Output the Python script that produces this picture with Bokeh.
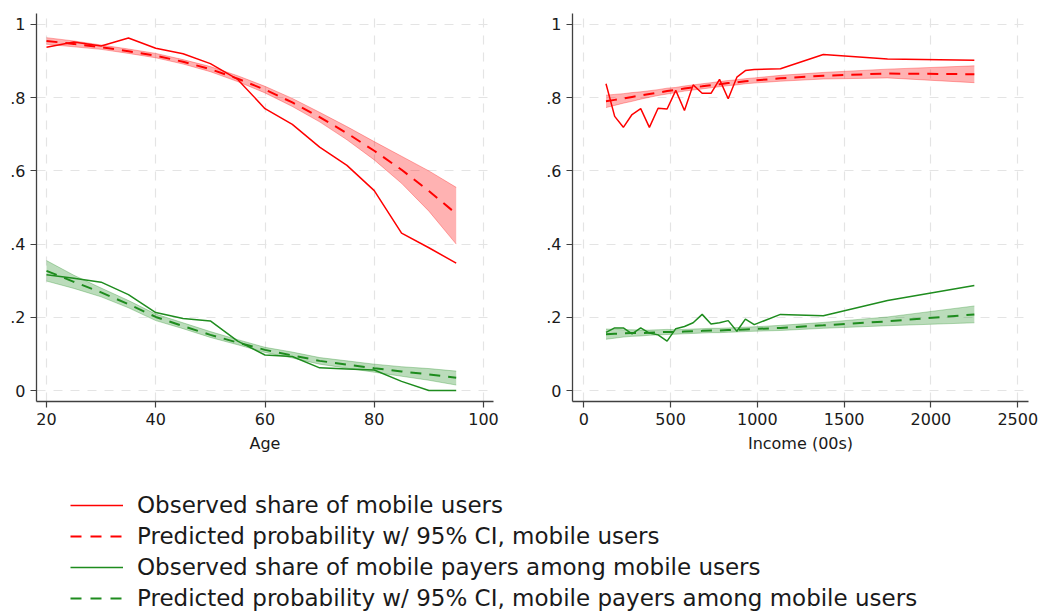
from bokeh.plotting import figure
from bokeh.models import FixedTicker, CustomJSTickFormatter, Legend, LegendItem, Range1d
from bokeh.layouts import column, row
from bokeh.embed import file_html
from bokeh.resources import INLINE

# ---------------- data: by age ----------------
age = [20, 25, 30, 35, 40, 45, 50, 55, 60, 65, 70, 75, 80, 85, 90, 95]
age_obs_users = [0.938, 0.952, 0.941, 0.963, 0.935, 0.920, 0.893, 0.850,
                 0.770, 0.727, 0.665, 0.615, 0.546, 0.430, 0.390, 0.348]
age_pred_users = [0.955, 0.947, 0.938, 0.927, 0.915, 0.898, 0.878, 0.852,
                  0.822, 0.787, 0.747, 0.703, 0.655, 0.603, 0.545, 0.483]
age_pred_users_hi = [0.964, 0.955, 0.944, 0.933, 0.921, 0.904, 0.885, 0.860,
                     0.831, 0.798, 0.760, 0.721, 0.680, 0.640, 0.600, 0.555]
age_pred_users_lo = [0.946, 0.939, 0.932, 0.921, 0.909, 0.892, 0.871, 0.844,
                     0.813, 0.776, 0.734, 0.685, 0.630, 0.566, 0.490, 0.400]
age_obs_payers = [0.316, 0.307, 0.296, 0.262, 0.213, 0.197, 0.190, 0.135,
                  0.097, 0.093, 0.062, 0.059, 0.056, 0.025, 0.000, 0.000]
age_pred_payers = [0.327, 0.297, 0.268, 0.236, 0.201, 0.176, 0.152, 0.131,
                   0.111, 0.096, 0.081, 0.071, 0.061, 0.052, 0.044, 0.035]
age_pred_payers_hi = [0.355, 0.315, 0.280, 0.246, 0.209, 0.185, 0.161, 0.139,
                      0.118, 0.105, 0.090, 0.081, 0.072, 0.065, 0.060, 0.053]
age_pred_payers_lo = [0.299, 0.279, 0.256, 0.226, 0.191, 0.169, 0.145, 0.125,
                      0.104, 0.089, 0.072, 0.061, 0.050, 0.039, 0.028, 0.015]

# ---------------- data: by income ----------------
income = [128, 178, 228, 278, 328, 378, 428, 480, 530, 580, 630, 682, 733,
          782, 832, 882, 931, 982, 1133, 1380, 1750, 2250]
inc_obs_users = [0.838, 0.749, 0.719, 0.754, 0.770, 0.719, 0.771, 0.769, 0.820,
                 0.765, 0.835, 0.812, 0.812, 0.850, 0.797, 0.856, 0.874, 0.877,
                 0.879, 0.918, 0.906, 0.902]
inc_pred_users = [0.790, 0.794, 0.798, 0.802, 0.806, 0.810, 0.814, 0.818, 0.821,
                  0.825, 0.828, 0.831, 0.834, 0.837, 0.840, 0.842, 0.845, 0.847,
                  0.853, 0.860, 0.866, 0.864]
inc_pred_users_hi = [0.807, 0.809, 0.811, 0.814, 0.816, 0.819, 0.822, 0.826, 0.828,
                     0.832, 0.835, 0.838, 0.841, 0.844, 0.847, 0.849, 0.852, 0.854,
                     0.861, 0.869, 0.878, 0.887]
inc_pred_users_lo = [0.773, 0.779, 0.785, 0.790, 0.796, 0.801, 0.806, 0.810, 0.814,
                     0.818, 0.821, 0.824, 0.827, 0.830, 0.833, 0.835, 0.838, 0.840,
                     0.845, 0.851, 0.854, 0.841]
inc_obs_payers = [0.159, 0.171, 0.171, 0.155, 0.171, 0.157, 0.152, 0.135, 0.169,
                  0.175, 0.185, 0.208, 0.182, 0.185, 0.191, 0.162, 0.195, 0.180,
                  0.208, 0.204, 0.246, 0.287]
inc_pred_payers = [0.154, 0.155, 0.156, 0.157, 0.157, 0.158, 0.159, 0.160, 0.160,
                   0.161, 0.162, 0.163, 0.164, 0.164, 0.165, 0.166, 0.167, 0.168,
                   0.171, 0.178, 0.189, 0.208]
inc_pred_payers_hi = [0.168, 0.167, 0.166, 0.166, 0.165, 0.165, 0.166, 0.167, 0.166,
                      0.167, 0.168, 0.169, 0.170, 0.170, 0.171, 0.172, 0.173, 0.174,
                      0.178, 0.186, 0.201, 0.231]
inc_pred_payers_lo = [0.140, 0.143, 0.146, 0.148, 0.149, 0.151, 0.152, 0.153, 0.154,
                      0.155, 0.156, 0.157, 0.158, 0.158, 0.159, 0.160, 0.161, 0.162,
                      0.164, 0.170, 0.177, 0.185]

y_ticks = [0, 0.2, 0.4, 0.6, 0.8, 1.0]
age_ticks = [20, 40, 60, 80, 100]
income_ticks = [0, 500, 1000, 1500, 2000, 2500]

legend_labels = [
    "Observed share of mobile users",
    "Predicted probability w/ 95% CI, mobile users",
    "Observed share of mobile payers among mobile users",
    "Predicted probability w/ 95% CI, mobile payers among mobile users",
]

RED = "#ff0000"
GREEN = "#1e8c1e"
FONT = "DejaVu Sans"
DASH = "11 8"
NAN = float("nan")


def panel(x, series, xr, xticks, xlabel, width, bl, br):
    p = figure(width=width, height=457, output_backend="svg", toolbar_location=None,
               x_range=Range1d(*xr), y_range=Range1d(-0.030, 1.030),
               min_border_left=bl, min_border_right=br, min_border_top=13,
               min_border_bottom=56)
    p.outline_line_color = None
    for (obs, pred, hi, lo, col, alpha) in series:
        p.varea(x=x, y1=lo, y2=hi, fill_color=col, fill_alpha=alpha)
        p.line(x, hi, line_color=col, line_alpha=alpha, line_width=1)
        p.line(x, lo, line_color=col, line_alpha=alpha, line_width=1)
        p.line(x, obs, line_color=col, line_width=1.5)
        p.line(x, pred, line_color=col, line_width=2, line_dash=DASH)
    p.xaxis.ticker = FixedTicker(ticks=xticks)
    p.yaxis.ticker = FixedTicker(ticks=y_ticks)
    p.yaxis.formatter = CustomJSTickFormatter(code="""
        if (Math.abs(tick) < 1e-9) return '0';
        if (Math.abs(tick - 1) < 1e-9) return '1';
        return '.' + Math.round(tick * 10);
    """)
    p.xaxis.axis_label = xlabel
    for ax in (p.xaxis[0], p.yaxis[0]):
        ax.axis_line_color = "#404040"
        ax.axis_line_width = 1.3
        ax.major_tick_line_color = "#404040"
        ax.major_tick_line_width = 1.2
        ax.major_tick_out = 6
        ax.major_tick_in = 0
        ax.minor_tick_out = 0
        ax.minor_tick_in = 0
        ax.major_label_text_font = FONT
        ax.major_label_text_font_size = "16px"
        ax.major_label_text_color = "#1a1a1a"
        ax.major_label_standoff = 5
        ax.axis_label_text_font = FONT
        ax.axis_label_text_font_size = "16px"
        ax.axis_label_text_font_style = "normal"
        ax.axis_label_text_color = "#1a1a1a"
        ax.axis_label_standoff = 6
    for g in (p.xgrid[0], p.ygrid[0]):
        g.grid_line_color = "#e4e4e4"
        g.grid_line_dash = "9 8"
        g.grid_line_width = 1.2
    return p


p1 = panel(age, [
    (age_obs_users, age_pred_users, age_pred_users_hi, age_pred_users_lo, RED, 0.3),
    (age_obs_payers, age_pred_payers, age_pred_payers_hi, age_pred_payers_lo, GREEN, 0.3),
], (18.17, 101.83), age_ticks, "Age", 518, 36, 25)

p2 = panel(income, [
    (inc_obs_users, inc_pred_users, inc_pred_users_hi, inc_pred_users_lo, RED, 0.3),
    (inc_obs_payers, inc_pred_payers, inc_pred_payers_hi, inc_pred_payers_lo, GREEN, 0.3),
], (-65, 2562), income_ticks, "Income (00s)", 528, 54, 18)

# ---------------- legend panel ----------------
p3 = figure(width=1046, height=156, output_backend="svg", toolbar_location=None,
            x_range=Range1d(0, 1), y_range=Range1d(0, 1), min_border=0,
            x_axis_location=None, y_axis_location=None)
p3.outline_line_color = None
p3.xgrid.visible = False
p3.ygrid.visible = False
r1 = p3.line(x=[NAN], y=[NAN], line_color=RED, line_width=1.5)
r2 = p3.line(x=[NAN], y=[NAN], line_color=RED, line_width=1.8, line_dash="11 9")
r3 = p3.line(x=[NAN], y=[NAN], line_color=GREEN, line_width=1.5)
r4 = p3.line(x=[NAN], y=[NAN], line_color=GREEN, line_width=1.8, line_dash="11 9")
legend = Legend(
    items=[LegendItem(label=lab, renderers=[r]) for lab, r in zip(legend_labels, [r1, r2, r3, r4])],
    location=(70, 2), orientation="vertical",
    label_text_font=FONT, label_text_font_size="23px", label_text_color="#1a1a1a",
    glyph_width=53, glyph_height=20, label_height=20, label_standoff=14,
    spacing=5, padding=0, margin=0, border_line_color=None, background_fill_alpha=0,
)
p3.add_layout(legend)

layout = column(row(p1, p2), p3)
open("out.html", "w").write(file_html(layout, INLINE))
